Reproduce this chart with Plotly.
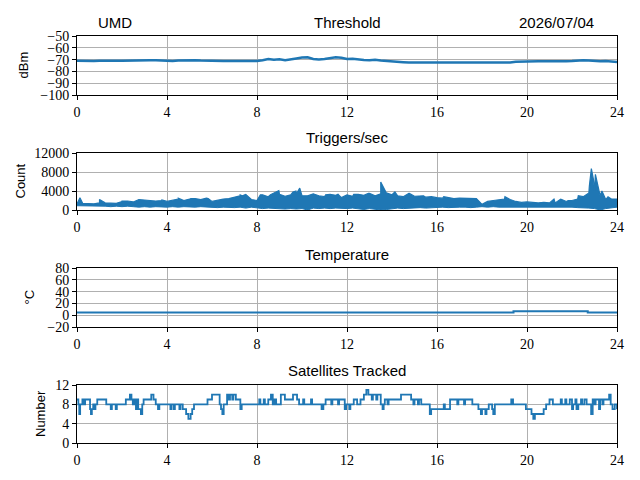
import plotly.graph_objects as go

# ---- data ----
hours_q = [i * 0.25 for i in range(97)]  # quarter-hour sample times

threshold_dbm = [
    -71.0, -71.2, -70.9, -71.1, -71.0, -71.2, -70.9, -71.0,
    -71.0, -70.8, -70.6, -70.5, -70.4, -70.5, -70.6, -70.9,
    -71.0, -71.1, -70.8, -70.7, -70.2, -70.5, -70.8, -71.0,
    -71.2, -71.3, -71.2, -71.1, -71.2, -71.3, -71.2, -71.0,
    -71.1, -70.5, -69.5, -70.2, -69.8, -70.5, -69.5, -69.0,
    -68.3, -68.0, -69.5, -70.0, -69.5, -68.8, -68.0, -68.5,
    -69.5, -69.3, -70.0, -70.3, -70.5, -70.2, -70.8, -71.0,
    -71.2, -71.8, -72.2, -72.5, -72.5, -72.6, -72.5, -72.7,
    -72.8, -72.6, -72.5, -72.7, -72.5, -72.6, -72.5, -72.4,
    -72.5, -72.6, -72.8, -72.5, -72.4, -72.5, -71.8, -71.6,
    -71.5, -71.6, -71.4, -71.5, -71.6, -71.4, -71.5, -71.3,
    -71.2, -70.8, -70.5, -70.8, -71.3, -71.5, -71.2, -71.8,
    -72.0,
]

trig_hi = [
    1300, 1400, 1400, 1300, 1500, 1500, 1500, 1400,
    1800, 1900, 1700, 2200, 2100, 2000, 1900, 2000,
    1800, 2100, 2300, 2000, 2300, 2400, 2200, 2500,
    1800, 2100, 2300, 2400, 2700, 3000, 3300, 2200,
    2000, 3200, 2800, 3500, 3300, 2900, 3200, 3400,
    3000, 3000, 3400, 3000, 2800, 3300, 3100, 2600,
    3200, 2900, 3300, 3100, 3500, 3000, 3400, 3600,
    3200, 3000, 2800, 3500, 2900, 3000, 2700, 2800,
    2600, 2500, 2600, 2400, 2500, 2400, 2500, 2400,
    1200, 1800, 2000, 2100, 2300, 2200, 1800, 1600,
    1700, 1600, 1500, 1600, 1500, 1500, 2300, 1800,
    2000, 2300, 2800, 3600, 4000, 3000, 2200, 2300,
    2300,
]

trig_lo = [
    900, 900, 800, 900, 800, 800, 700, 800,
    700, 800, 700, 600, 700, 600, 700, 600,
    600, 700, 600, 700, 600, 600, 700, 600,
    600, 500, 600, 500, 500, 600, 400, 600,
    400, 300, 400, 300, 300, 200, 300, 200,
    300, 0, 400, 300, 400, 300, 400, 300,
    300, 400, 300, 100, 300, 200, 0, 100,
    300, 400, 300, 400, 400, 500, 400, 500,
    500, 600, 500, 600, 600, 600, 500, 600,
    700, 600, 700, 600, 600, 700, 600, 700,
    600, 700, 700, 600, 700, 600, 700, 600,
    600, 500, 500, 400, 300, 0, 300, 500,
    600,
]

spike_hours = [0.13, 1.0, 2.0, 3.77, 4.5, 5.07, 5.83, 7.25, 7.35, 8.15, 8.6,
               8.97, 9.6, 9.73, 9.9, 10.5, 11.05, 11.6, 12.3, 12.95, 13.5,
               14.13, 14.77, 15.4, 16.3, 17.2, 19.02, 21.2, 21.83, 22.28,
               22.77, 22.86, 22.95, 23.04, 23.13, 23.33, 23.6]
spike_counts = [2600, 2200, 1900, 2100, 2500, 2400, 2400, 3200, 3000, 3200, 3200,
                4100, 3800, 4000, 4600, 3400, 3200, 3300, 3300, 3500, 5900,
                3800, 3500, 3000, 2800, 2500, 2800, 2300, 2000, 3000,
                5000, 8700, 6500, 7500, 5500, 4000, 2800]

temp_hours = [0, 19.4, 22.7, 24]
temp_c = [4.5, 6.5, 4.5, 4.5]

sat_hours = [
    0, 0.06, 0.1, 0.14, 0.24, 0.3, 0.36, 0.58, 0.62, 0.66, 0.72, 0.78, 0.82, 0.9,
    1.3, 1.5, 1.55, 1.72, 1.77,
    2.17, 2.35, 2.42, 2.48, 2.56, 2.62, 2.67, 2.72, 2.84, 2.9, 2.96,
    3.3, 3.4, 3.5, 3.6, 3.66,
    4.15, 4.2, 4.3, 4.35, 4.55, 4.6, 4.7, 4.85, 4.95, 5.05, 5.12,
    5.2, 5.8,
    6.0, 6.34, 6.4, 6.46, 6.52, 6.67, 6.75, 6.8, 6.9, 6.95,
    7.06, 7.26, 7.32,
    8.1, 8.15, 8.3, 8.35, 8.5, 8.62, 8.7, 8.78, 8.85,
    9.06, 9.24, 9.6, 9.78, 9.87,
    10.05, 10.1, 10.4, 10.45, 10.87, 10.95,
    11.05, 11.3, 11.35, 11.6, 11.65, 11.9, 11.96,
    12.1, 12.15, 12.3, 12.45, 12.6, 12.75, 12.86, 12.95,
    13.1, 13.15, 13.3, 13.35, 13.5, 13.58, 13.63, 13.68, 13.8, 13.85,
    14.4, 14.85, 14.95, 15.0,
    15.15, 15.2, 15.3, 15.68, 15.74,
    16.3, 16.35, 16.58, 16.9, 16.95,
    17.2, 17.25, 17.57, 17.84, 17.95, 18.0,
    18.15, 18.2, 18.3, 18.45, 18.5, 18.57,
    19.3, 19.38, 19.95,
    20.2, 20.28, 20.35, 20.74, 20.85,
    21.0, 21.15, 21.5, 21.55, 21.7, 21.75, 21.9,
    22.0, 22.05, 22.15, 22.2, 22.28, 22.4, 22.45, 22.55, 22.65, 22.85, 22.92,
    23.0, 23.05, 23.2, 23.25, 23.35, 23.4, 23.55, 23.65, 23.72, 23.8, 23.9, 24.0,
]
sat_count = [
    9, 8, 6, 8, 9, 8, 9, 7, 6, 7, 8, 7, 8, 9,
    8, 7, 8, 7, 8,
    9, 10, 9, 8, 9, 7, 9, 7, 6, 8, 9,
    10, 9, 8, 7, 8,
    7, 8, 7, 8, 7, 8, 7, 6, 5, 6, 7,
    8, 9,
    10, 8, 7, 6, 8, 10, 9, 10, 9, 10,
    9, 7, 8,
    9, 8, 9, 8, 9, 10, 8, 9, 8,
    10, 9, 10, 9, 8,
    9, 8, 9, 8, 7, 8,
    9, 8, 9, 8, 9, 7, 8,
    7, 8, 9, 8, 9, 10, 11, 10,
    9, 10, 9, 10, 8, 7, 8, 9, 8, 9,
    10, 9, 8, 9,
    8, 9, 8, 6, 7,
    8, 7, 9, 8, 9,
    8, 9, 8, 7, 6, 7,
    6, 7, 8, 7, 6, 8,
    9, 8, 7,
    6, 5, 6, 7, 8,
    9, 8, 9, 8, 9, 8, 9,
    7, 8, 9, 7, 8, 9, 8, 9, 8, 6, 9,
    8, 9, 7, 9, 8, 9, 9, 10, 8, 7, 8, 7,
]

# upper envelope of the trigger band with the isolated spikes merged in
upper = sorted(list(zip(hours_q, trig_hi)) + list(zip(spike_hours, spike_counts)))
upper_x = [p[0] for p in upper]
upper_y = [p[1] for p in upper]

BLUE = "#1f77b4"
OX, OY = 8, 8          # page offset of the plot div
W, H = 640 - OX, 480 - OY
L, R = 77, 617         # screen x of the axis box
SERIF = "Liberation Serif, DejaVu Serif, serif"
SANS = "Liberation Sans, DejaVu Sans, sans-serif"

# screen rows (top, bottom) of each panel
panels = [(36, 95), (153, 210), (268, 327), (385, 443)]


def py(sy):
    return 1 - (sy - OY) / H


def pxx(sx):
    return (sx - L) / (R - L)


fig = go.Figure()
fig.add_trace(go.Scatter(x=hours_q, y=threshold_dbm, mode="lines",
                         line=dict(color=BLUE, width=2.5), xaxis="x", yaxis="y"))
fig.add_trace(go.Scatter(x=hours_q, y=trig_lo, mode="lines",
                         line=dict(color=BLUE, width=1), xaxis="x2", yaxis="y2"))
fig.add_trace(go.Scatter(x=upper_x, y=upper_y, mode="lines", fill="tonexty",
                         fillcolor=BLUE, line=dict(color=BLUE, width=1.2),
                         xaxis="x2", yaxis="y2"))
fig.add_trace(go.Scatter(x=temp_hours, y=temp_c, mode="lines", line_shape="hv",
                         line=dict(color=BLUE, width=2), xaxis="x3", yaxis="y3"))
fig.add_trace(go.Scatter(x=sat_hours, y=sat_count, mode="lines", line_shape="hv",
                         line=dict(color=BLUE, width=1.8), xaxis="x4", yaxis="y4"))

axis_common = dict(showline=True, mirror=True, linecolor="black", linewidth=1,
                   ticks="outside", ticklen=4, tickcolor="black", automargin=False,
                   showgrid=True, gridcolor="#b0b0b0", gridwidth=0.8,
                   zeroline=False, tickfont=dict(family=SERIF, size=14, color="black"))

yranges = [([-100, -50], 10), ([0, 12000], 4000), ([-20, 80], 20), ([0, 12], 4)]
layout = {}
for i, ((top, bot), (yr, dt)) in enumerate(zip(panels, yranges)):
    sfx = "" if i == 0 else str(i + 1)
    layout["xaxis" + sfx] = dict(axis_common, domain=[0, 1], range=[0, 24], dtick=4,
                                 tick0=0, anchor="y" + sfx)
    layout["yaxis" + sfx] = dict(axis_common, domain=[py(bot), py(top)], range=yr,
                                 dtick=dt, tick0=yr[0], tickformat="d",
                                 anchor="x" + sfx)

annotations = []


def label(txt, sx, sy, size, angle=0):
    annotations.append(dict(text=txt, x=pxx(sx), y=py(sy), xref="paper", yref="paper",
                            xanchor="center", yanchor="middle", textangle=angle,
                            showarrow=False,
                            font=dict(family=SANS, size=size, color="black")))


titles = [("Threshold", 22), ("Triggers/sec", 138), ("Temperature", 254),
          ("Satellites Tracked", 370)]
for txt, sy in titles:
    label(txt, 347, sy, 15)
label("UMD", 115, 22, 15)
label("2026/07/04", 556, 22, 15)

ylabels = [("dBm", 23), ("Count", 20), ("°C", 29), ("Number", 40)]
for (txt, sx), (top, bot) in zip(ylabels, panels):
    label(txt, sx, (top + bot) / 2, 13, -90)

fig.update_layout(
    width=W, height=H,
    margin=dict(l=L - OX, r=W - (R - OX), t=0, b=0),
    paper_bgcolor="white", plot_bgcolor="white",
    showlegend=False,
    annotations=annotations,
    **layout,
)

fig.write_html("out.html")
